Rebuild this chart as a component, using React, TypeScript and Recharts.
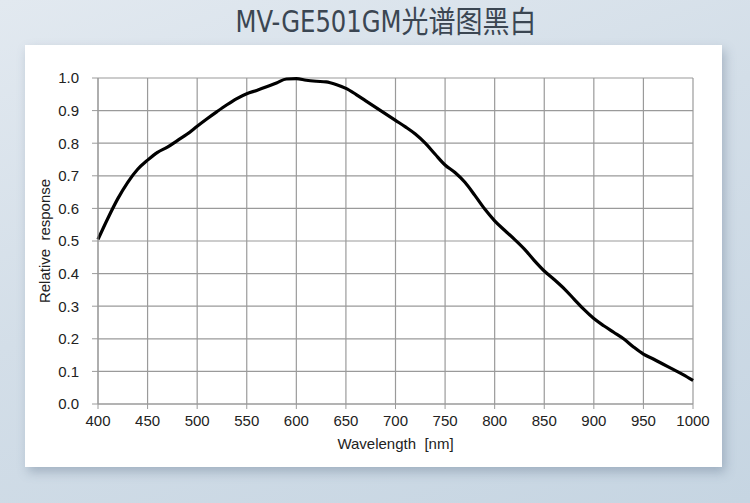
import { LineChart, Line, XAxis, YAxis, CartesianGrid } from "recharts";

// wavelength in nm and relative response
const wavelengths = [
  400, 410, 420, 430, 440, 450, 460, 470, 480, 490, 500, 510, 520, 530, 540,
  550, 560, 570, 580, 590, 600, 610, 620, 630, 640, 650, 660, 670, 680, 690,
  700, 710, 720, 730, 740, 750, 760, 770, 780, 790, 800, 810, 820, 830, 840,
  850, 860, 870, 880, 890, 900, 910, 920, 930, 940, 950, 960, 970, 980, 990,
  1000,
];

const response = [
  0.505, 0.57, 0.63, 0.68, 0.72, 0.748, 0.772, 0.788, 0.808, 0.828, 0.852,
  0.875, 0.897, 0.918, 0.937, 0.952, 0.962, 0.973, 0.985, 0.997, 0.998, 0.993,
  0.99, 0.988, 0.98, 0.968, 0.95, 0.93, 0.91, 0.89, 0.87, 0.85, 0.828, 0.8,
  0.766, 0.733, 0.71, 0.68, 0.64, 0.598, 0.562, 0.533, 0.505, 0.475, 0.44,
  0.408, 0.382, 0.354, 0.322, 0.29, 0.262, 0.24, 0.22, 0.2, 0.175, 0.153,
  0.138, 0.122, 0.106, 0.09, 0.072,
];

const xTicks = [400, 450, 500, 550, 600, 650, 700, 750, 800, 850, 900, 950, 1000];
const yTicks = [0, 0.1, 0.2, 0.3, 0.4, 0.5, 0.6, 0.7, 0.8, 0.9, 1.0];

const data = wavelengths.map((w, i) => ({ wavelength: w, value: response[i] }));

const FONT = "'Liberation Sans', Arial, sans-serif";
const GRID = "#9a9a9a";

export default function App() {
  return (
    <div
      style={{
        position: "absolute",
        left: 0,
        top: 0,
        width: 750,
        height: 503,
        overflow: "hidden",
        background: "linear-gradient(160deg, #e2e9f0 0%, #d3dee8 45%, #c6d5e2 100%)",
      }}
    >
      <div
        style={{
          position: "absolute",
          left: 11,
          top: -3,
          width: 750,
          textAlign: "center",
          fontFamily: "'DejaVu Sans Condensed', 'Noto Sans CJK SC', sans-serif",
          fontSize: 30,
          color: "#3b4652",
          transform: "scaleX(0.9)",
        }}
      >
        MV-GE501GM光谱图黑白
      </div>
      <div
        style={{
          position: "absolute",
          left: 25,
          top: 45,
          width: 697,
          height: 422,
          background: "#ffffff",
          boxShadow: "3px 5px 10px rgba(80, 100, 125, 0.35)",
        }}
      />
      <div style={{ position: "absolute", left: 0, top: 0 }}>
        <LineChart
          width={750}
          height={503}
          data={data}
          margin={{ top: 78, right: 57, bottom: 69, left: 0 }}
        >
          <CartesianGrid stroke={GRID} strokeWidth={1.2} />
          <XAxis
            dataKey="wavelength"
            type="number"
            domain={[400, 1000]}
            ticks={xTicks}
            height={30}
            stroke={GRID}
            tickSize={5}
            tickMargin={6}
            tick={{ fill: "#222", fontSize: 15, fontFamily: FONT }}
            label={{
              value: "Wavelength\u00a0\u00a0[nm]",
              position: "insideBottom",
              offset: -15,
              fill: "#222",
              fontSize: 15,
              fontFamily: FONT,
            }}
          />
          <YAxis
            type="number"
            domain={[0, 1]}
            ticks={yTicks}
            width={98}
            stroke={GRID}
            tickSize={6}
            tickMargin={13}
            tickFormatter={(v) => v.toFixed(1)}
            tick={{ fill: "#222", fontSize: 15, fontFamily: FONT }}
            label={{
              value: "Relative\u00a0\u00a0response",
              angle: -90,
              position: "insideLeft",
              offset: 45,
              fill: "#222",
              fontSize: 15,
              fontFamily: FONT,
              style: { textAnchor: "middle" },
            }}
          />
          <Line
            type="monotone"
            dataKey="value"
            stroke="#000"
            strokeWidth={3.2}
            dot={false}
            isAnimationActive={false}
          />
        </LineChart>
      </div>
    </div>
  );
}
